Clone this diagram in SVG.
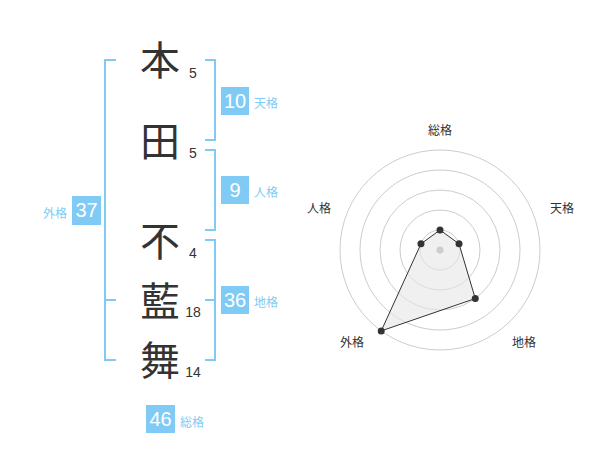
<svg xmlns="http://www.w3.org/2000/svg" width="600" height="470" viewBox="0 0 600 470">
<style>
.bg{fill:#ffffff}
.kanji{font-family:"Noto Sans CJK JP","Noto Sans CJK SC",sans-serif;font-size:40px;fill:#333333;text-anchor:middle}
.stroke{font-family:"Liberation Sans",Arial,sans-serif;font-size:14px;fill:#333333;text-anchor:middle}
.box{fill:#80CBF5}
.boxnum{font-family:"Liberation Sans",Arial,sans-serif;font-size:20px;fill:#ffffff;text-anchor:middle}
.lbl{font-family:"Noto Sans CJK JP","Noto Sans CJK SC",sans-serif;font-size:12px;fill:#80CBF5}
.br{fill:none;stroke:#80CBF5;stroke-width:2}
.ring{fill:none;stroke:#cccccc;stroke-width:1}
.rlbl{font-family:"Noto Sans CJK JP","Noto Sans CJK SC",sans-serif;font-size:12px;fill:#333333;text-anchor:middle}
.pt{fill:#333333}
</style>
<rect class="bg" x="0" y="0" width="600" height="470"/>
<g id="connectors">
<path class="br" d="M116,60 H105 V360 H116 M105,300 H116"/>
<path class="br" d="M205,60 H215 V140 H205"/>
<path class="br" d="M205,150 H215 V230 H205"/>
<path class="br" d="M205,240 H215 V360 H205 M205,300 H215"/>
</g>
<g id="char-hon"><text class="kanji" x="160" y="75">本</text><text class="stroke" x="193" y="78">5</text></g>
<g id="char-da"><text class="kanji" x="160" y="156">田</text><text class="stroke" x="193" y="158">5</text></g>
<g id="char-fu"><text class="kanji" x="160" y="256">不</text><text class="stroke" x="193" y="258">4</text></g>
<g id="char-ai"><text class="kanji" x="160" y="316">藍</text><text class="stroke" x="193" y="317">18</text></g>
<g id="char-mai"><text class="kanji" x="160" y="375">舞</text><text class="stroke" x="193" y="377">14</text></g>
<g id="tenkaku"><rect class="box" x="221" y="87" width="28" height="28"/><text class="boxnum" x="235" y="108">10</text><text class="lbl" x="254" y="108">天格</text></g>
<g id="jinkaku"><rect class="box" x="221" y="176" width="28" height="28"/><text class="boxnum" x="235" y="197">9</text><text class="lbl" x="254" y="197">人格</text></g>
<g id="chikaku"><rect class="box" x="221" y="286" width="28" height="28"/><text class="boxnum" x="235" y="307">36</text><text class="lbl" x="254" y="307">地格</text></g>
<g id="gaikaku"><rect class="box" x="72" y="196" width="29" height="29"/><text class="boxnum" x="86.5" y="217">37</text><text class="lbl" x="67" y="218" text-anchor="end">外格</text></g>
<g id="soukaku"><rect class="box" x="146" y="405" width="29" height="28"/><text class="boxnum" x="160.5" y="426">46</text><text class="lbl" x="180" y="427">総格</text></g>
<g id="radar">
<circle class="ring" cx="440" cy="250" r="20"/>
<circle class="ring" cx="440" cy="250" r="40"/>
<circle class="ring" cx="440" cy="250" r="60"/>
<circle class="ring" cx="440" cy="250" r="80"/>
<circle class="ring" cx="440" cy="250" r="100"/>
<polygon points="440,230 459.02,243.82 475.27,298.54 381.22,330.9 420.98,243.82" fill="#e6e6e6" fill-opacity="0.6" stroke="#333333" stroke-width="1"/>
<circle cx="440" cy="250" r="3.5" fill="#cccccc"/>
<circle class="pt" cx="440" cy="230" r="3.5"/>
<circle class="pt" cx="459.02" cy="243.82" r="3.5"/>
<circle class="pt" cx="475.27" cy="298.54" r="3.5"/>
<circle class="pt" cx="381.22" cy="330.9" r="3.5"/>
<circle class="pt" cx="420.98" cy="243.82" r="3.5"/>
<text class="rlbl" x="440" y="135">総格</text>
<text class="rlbl" x="562" y="213">天格</text>
<text class="rlbl" x="319" y="213">人格</text>
<text class="rlbl" x="352" y="347">外格</text>
<text class="rlbl" x="524" y="347">地格</text>
</g>
</svg>
